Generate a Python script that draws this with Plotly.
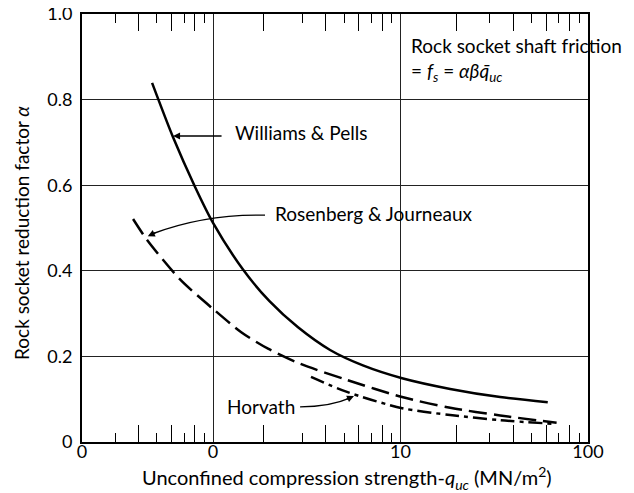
import numpy as np
import plotly.graph_objects as go

# curves (x: MN/m2, log scale; y: alpha)
wp_x = [0.473, 0.612, 0.802, 1.0, 1.445, 2.0, 2.84, 4.21, 6.3, 10.2, 18.4, 34, 61]
wp_y = [0.839, 0.712, 0.596, 0.512, 0.403, 0.329, 0.268, 0.215, 0.179, 0.149, 0.124, 0.105, 0.093]

rj_x = [0.3745, 0.445, 0.667, 1.0, 1.42, 1.965, 2.91, 5.18, 10.2, 18.4, 34, 68]
rj_y = [0.521, 0.472, 0.380, 0.311, 0.256, 0.218, 0.183, 0.145, 0.105, 0.080, 0.062, 0.045]

hv_x = [3.33, 5.18, 10.2, 18.4, 34, 68]
hv_y = [0.152, 0.117, 0.079, 0.063, 0.051, 0.042]

x_tickvals = [0.2, 1, 10, 100]
x_ticktext = ["0", "0", "10", "100"]
x_long_ticks = [0.4, 0.6, 0.8, 1.85, 4, 6, 8, 20, 40, 60, 80]
x_short_ticks = [0.3, 0.5, 0.7, 0.9, 3, 5, 7, 9, 30, 50, 70, 90]
y_tickvals = [0, 0.2, 0.4, 0.6, 0.8, 1.0]
y_ticktext = ["0", "0.2", "0.4", "0.6", "0.8", "1.0"]

FONT = "Lato, 'Open Sans', sans-serif"
xr = [np.log10(0.2), 2]

fig = go.Figure()
line = dict(color="black", width=2.5, shape="spline", smoothing=0.8)
fig.add_trace(go.Scatter(x=wp_x, y=wp_y, mode="lines", line=line))
fig.add_trace(go.Scatter(x=rj_x, y=rj_y, mode="lines", line=dict(line, dash="18px,7px")))
fig.add_trace(go.Scatter(x=hv_x, y=hv_y, mode="lines", line=dict(line, dash="14px,5px,4px,5px")))
# empty trace so the tick-only overlay axis gets drawn
fig.add_trace(go.Scatter(x=[], y=[], xaxis="x2", yaxis="y", showlegend=False))

# page body has an 8px margin, so the figure margins are offset to compensate
fig.update_layout(
    width=634, height=493,
    margin=dict(l=74, r=54, t=6, b=59),
    paper_bgcolor="white", plot_bgcolor="white",
    showlegend=False,
    font=dict(family=FONT, size=19, color="black"),
    xaxis=dict(
        type="log", range=xr, automargin=False,
        tickvals=x_tickvals, ticktext=x_ticktext,
        showgrid=True, gridcolor="#222", gridwidth=1.2,
        showline=True, linecolor="black", linewidth=2, mirror=True,
        ticks="", tickfont=dict(size=18), ticklabelstandoff=-8, ticklabeloverflow="allow",
    ),
    xaxis2=dict(
        type="log", range=xr, overlaying="x", anchor="y", side="bottom", automargin=False,
        tickvals=x_long_ticks, ticks="inside", ticklen=17, tickwidth=1.3, tickcolor="black",
        showticklabels=False, showgrid=False, showline=False, mirror="ticks", zeroline=False,
        minor=dict(tickvals=x_short_ticks, ticks="inside", ticklen=9, tickwidth=1.3, tickcolor="black",
                   showgrid=False),
    ),
    yaxis=dict(
        range=[0, 1], tickvals=y_tickvals, ticktext=y_ticktext, automargin=False,
        showgrid=True, gridcolor="#222", gridwidth=1.2, zeroline=False,
        showline=True, linecolor="black", linewidth=2, mirror=True,
        ticks="", ticklabelstandoff=4, tickfont=dict(size=18), ticklabeloverflow="allow",
    ),
)

ann = []
# axis titles
ann.append(dict(x=0.5, y=0, xref="paper", yref="paper", xshift=12, yshift=-36,
                xanchor="center", yanchor="middle",
                text="Unconfined compression strength-<i>q</i><sub><i>uc</i></sub> (MN/m<sup>2</sup>)",
                showarrow=False, font=dict(size=20)))
ann.append(dict(x=0, y=0.5, xref="paper", yref="paper", xshift=-61, yshift=-5,
                xanchor="center", yanchor="middle", textangle=-90,
                text="Rock socket reduction factor <i>α</i>", showarrow=False, font=dict(size=19)))
# Williams & Pells label with straight arrow
ann.append(dict(x=np.log10(1.28), y=0.722, xref="x", yref="y", text="Williams & Pells",
                showarrow=False, xanchor="left", yanchor="middle"))
ann.append(dict(x=np.log10(0.612), y=0.715, xref="x", yref="y", text="", showarrow=True,
                ax=50, ay=0, arrowhead=2, arrowsize=1, arrowwidth=1.4, arrowcolor="black", standoff=0))
# Rosenberg & Journeaux label with curved arrow
ann.append(dict(x=np.log10(2.09), y=0.535, xref="x", yref="y", text="Rosenberg & Journeaux",
                showarrow=False, xanchor="left", yanchor="middle"))
ann.append(dict(x=0.130, y=0.481, xref="paper", yref="paper", text="", showarrow=True,
                ax=9, ay=-4, arrowhead=2, arrowsize=1, arrowwidth=1.4, arrowcolor="black", standoff=0))
# Horvath label with curved arrow
ann.append(dict(x=np.log10(1.16), y=0.082, xref="x", yref="y", text="Horvath",
                showarrow=False, xanchor="left", yanchor="middle"))
ann.append(dict(x=0.5375, y=0.1075, xref="paper", yref="paper", text="", showarrow=True,
                ax=-9, ay=4, arrowhead=2, arrowsize=1, arrowwidth=1.4, arrowcolor="black", standoff=0))
# formula box text
ann.append(dict(x=np.log10(11.1), y=0.958, xref="x", yref="y",
                text="Rock socket shaft friction<br>= <i>f</i><sub><i>s</i></sub> = <i>αβq̄</i><sub><i>uc</i></sub>",
                showarrow=False, xanchor="left", yanchor="top", align="left"))
fig.update_layout(annotations=ann)

fig.update_layout(shapes=[
    dict(type="path", xref="paper", yref="paper",
         path="M 0.3617 0.530 Q 0.243 0.533 0.138 0.486",
         line=dict(color="black", width=1.4)),
    dict(type="path", xref="paper", yref="paper",
         path="M 0.431 0.082 Q 0.490 0.082 0.530 0.103",
         line=dict(color="black", width=1.4)),
])

fig.write_html("out.html")
